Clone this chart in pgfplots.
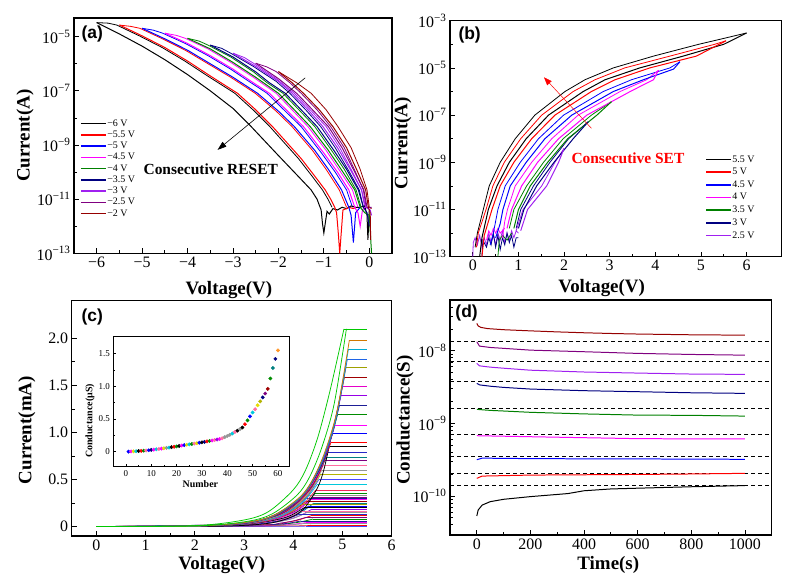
\documentclass[border=0pt]{standalone}
\usepackage{pgfplots}
\pgfplotsset{compat=1.18}
\usepackage{fontspec}
\setmainfont{Liberation Serif}
\newfontfamily\arialb{Liberation Sans}
\usetikzlibrary{arrows.meta}

\definecolor{oRed}{RGB}{255,0,0}
\definecolor{oBlue}{RGB}{0,0,255}
\definecolor{oMag}{RGB}{255,0,255}
\definecolor{oGreen}{RGB}{0,128,0}
\definecolor{oNavy}{RGB}{0,0,128}
\definecolor{oViolet}{RGB}{160,32,240}
\definecolor{oPurple}{RGB}{128,0,128}
\definecolor{oWine}{RGB}{150,0,0}
\definecolor{cGreenB}{RGB}{0,200,0}
\definecolor{cOrange}{RGB}{210,120,0}
\definecolor{cTeal2}{RGB}{0,170,210}
\definecolor{cRoyal}{RGB}{30,100,230}
\definecolor{cOlive}{RGB}{160,160,0}
\definecolor{cWine}{RGB}{160,0,0}
\definecolor{cMag}{RGB}{230,0,200}
\definecolor{cViolet}{RGB}{150,0,230}
\definecolor{cNavy}{RGB}{30,30,150}
\definecolor{cGreen}{RGB}{0,140,0}
\definecolor{cNavy2}{RGB}{40,40,200}
\definecolor{cTeal}{RGB}{0,128,128}
\definecolor{cPurple}{RGB}{128,0,128}
\definecolor{cPink}{RGB}{255,110,160}
\definecolor{cGray}{RGB}{150,150,150}
\definecolor{cOlive2}{RGB}{180,180,0}
\definecolor{cBlue2}{RGB}{70,70,255}
\definecolor{cCyan}{RGB}{0,200,220}
\definecolor{cRed2}{RGB}{240,40,90}
\definecolor{cYellow}{RGB}{230,220,0}
\definecolor{cOrangeB}{RGB}{255,150,40}

\tikzset{plab/.style={anchor=west, font=\fontsize{17.5}{17.5}\selectfont\arialb\bfseries}}
\pgfplotsset{
  panel/.style={scale only axis, anchor=south west,
    axis line style={line width=1.1pt},
    tick align=inside, xtick pos=left, ytick pos=left,
    major tick length=5bp, minor tick length=3bp,
    every tick/.style={black, line width=0.8pt},
    tick label style={font=\fontsize{16}{16}\selectfont},
    label style={font=\fontsize{19}{19}\selectfont\bfseries},
    /pgf/number format/assume math mode=true,
    /pgf/number format/1000 sep={}},
  iv/.style={line width=1.0pt},
  ivu/.style={line width=0.8pt, forget plot},
  cv/.style={line width=0.75pt, forget plot},
  lg/.style={legend style={draw=none, fill=none, font=\fontsize{10}{10}\selectfont,
      row sep=2.0bp, inner sep=0pt, nodes={inner sep=0.6bp}},
    legend image code/.code={\draw[##1, line width=1.5pt] (0bp,0bp) -- (25bp,0bp);},
    legend cell align=left}
}
% one I-V sweep of panel (c): rising part, then the flat compliance part
\newcommand{\cc}[4]{%
  \addplot[cv, smooth, tension=0.5, #1] coordinates {#2};
  \addplot[cv, #1] coordinates {(#3,#4)(5.5,#4)};}

\begin{document}
\begin{tikzpicture}
\path[use as bounding box] (0bp,0bp) rectangle (785bp,-583bp);

%================ (a) =================
\begin{axis}[panel, lg, at={(74bp,-253.3bp)}, width=318bp, height=235.3bp,
  xmin=-6.5, xmax=0.5, ymin=-13, ymax=-4.31,
  xtick={-6,-5,-4,-3,-2,-1,0}, xticklabels={−6,−5,−4,−3,−2,−1,0}, minor x tick num=1,
  ytick={-13,-11,-9,-7,-5}, yticklabels={10\textsuperscript{−13},10\textsuperscript{−11},10\textsuperscript{−9},10\textsuperscript{−7},10\textsuperscript{−5}},
  minor ytick={-12,-10,-8,-6},
  xlabel={Voltage(V)}, ylabel={Current(A)},
  xlabel style={at={(axis description cs:0.487,-0.156)}, anchor=center},
  ylabel style={at={(axis description cs:-0.154,0.5)}, anchor=center},
  legend style={at={(axis description cs:0.019,0.572)}, anchor=north west}]
% upper branches
\addplot[ivu, black] coordinates {(-6,-4.48)(-5.75,-4.5)(-5.56,-4.57)(-5.06,-4.97)(-4.56,-5.4)(-4.06,-5.9)(-3.56,-6.45)(-2.96,-7.09)(-2.56,-7.7)(-2.19,-8.32)(-1.56,-9.5)(-1.26,-10.15)(-1.03,-10.66)(-0.91,-11.0)(-0.82,-11.3)};
\addplot[ivu, oRed] coordinates {(-5.5,-4.57)(-5.25,-4.62)(-5.05,-4.69)(-4.55,-5.08)(-4.05,-5.5)(-3.55,-6.0)(-3.05,-6.5)(-2.51,-7.09)(-2.05,-7.75)(-1.7,-8.32)(-1.25,-9.2)(-0.95,-9.9)(-0.66,-10.66)(-0.5,-11.3)};
\addplot[ivu, oBlue] coordinates {(-5,-4.69)(-4.75,-4.76)(-4.55,-4.87)(-4.05,-5.25)(-3.55,-5.7)(-3.05,-6.2)(-2.65,-6.65)(-2.25,-7.09)(-1.85,-7.75)(-1.5,-8.32)(-1.05,-9.3)(-0.75,-10.0)(-0.5,-10.66)(-0.37,-11.3)};
\addplot[ivu, oMag] coordinates {(-4.5,-4.87)(-4.25,-4.95)(-4.05,-5.06)(-3.55,-5.45)(-3.05,-5.95)(-2.55,-6.5)(-2.05,-7.09)(-1.7,-7.7)(-1.35,-8.32)(-0.95,-9.2)(-0.65,-9.95)(-0.37,-10.66)(-0.25,-11.3)};
\addplot[ivu, oGreen] coordinates {(-4,-5.06)(-3.75,-5.16)(-3.55,-5.31)(-3.05,-5.75)(-2.55,-6.3)(-2.25,-6.7)(-1.9,-7.09)(-1.55,-7.7)(-1.2,-8.32)(-0.85,-9.15)(-0.55,-9.9)(-0.29,-10.66)(-0.18,-11.3)};
\addplot[ivu, oNavy] coordinates {(-3.5,-5.31)(-3.25,-5.43)(-3.05,-5.61)(-2.55,-6.1)(-2.05,-6.65)(-1.75,-7.09)(-1.4,-7.7)(-1.07,-8.32)(-0.75,-9.1)(-0.47,-9.9)(-0.22,-10.66)(-0.13,-11.3)};
\addplot[ivu, oViolet] coordinates {(-3,-5.61)(-2.75,-5.77)(-2.55,-5.98)(-2.05,-6.55)(-1.65,-7.09)(-1.3,-7.7)(-0.95,-8.32)(-0.65,-9.1)(-0.4,-9.9)(-0.17,-10.66)(-0.1,-11.3)};
\addplot[ivu, oPurple] coordinates {(-2.5,-5.98)(-2.25,-6.12)(-2.05,-6.29)(-1.75,-6.7)(-1.5,-7.09)(-1.15,-7.7)(-0.85,-8.32)(-0.55,-9.1)(-0.33,-9.9)(-0.13,-10.66)(-0.07,-11.3)};
\addplot[ivu, oWine] coordinates {(-2,-6.29)(-1.6,-6.7)(-1.28,-7.09)(-0.95,-7.7)(-0.69,-8.32)(-0.4,-9.1)(-0.2,-9.9)(-0.05,-10.66)(0.0,-11.3)(0.05,-11.35)};
% lower branches
\addplot[iv, black] coordinates {(-6,-4.48)(-5.5,-4.9)(-5,-5.35)(-4.5,-5.85)(-4,-6.4)(-3.5,-7.0)(-3,-7.65)(-2.6,-8.32)(-2,-9.39)(-1.5,-10.27)(-1.28,-10.66)(-1.15,-11.0)(-1.06,-11.4)(-1.03,-11.9)(-1.0,-12.25)(-0.97,-11.9)(-0.93,-11.45)(-0.88,-11.55)(-0.8,-11.35)(-0.7,-11.4)(-0.6,-11.3)(-0.5,-11.35)(-0.4,-11.25)(-0.3,-11.3)(-0.2,-11.3)(-0.1,-11.25)(-0.05,-11.6)(-0.03,-12.5)(0,-11.4)};
\addlegendentry{−6 V}
\addplot[iv, oRed] coordinates {(-5.5,-4.57)(-5,-4.97)(-4.5,-5.4)(-4,-5.9)(-3.5,-6.45)(-2.9,-7.09)(-2.5,-7.7)(-2.13,-8.32)(-1.5,-9.5)(-1.2,-10.15)(-0.97,-10.66)(-0.85,-11.0)(-0.76,-11.3)(-0.72,-11.5)(-0.68,-12.3)(-0.65,-13)(-0.62,-12.3)(-0.58,-11.4)(-0.5,-11.35)(-0.45,-11.3)(-0.35,-11.35)(-0.3,-11.3)};
\addlegendentry{−5.5 V}
\addplot[iv, oBlue] coordinates {(-5,-4.69)(-4.5,-5.08)(-4,-5.5)(-3.5,-6.0)(-3,-6.5)(-2.46,-7.09)(-2,-7.75)(-1.65,-8.32)(-1.2,-9.2)(-0.9,-9.9)(-0.61,-10.66)(-0.45,-11.3)(-0.4,-11.6)(-0.35,-12.6)(-0.3,-11.5)(-0.2,-11.3)};
\addlegendentry{−5 V}
\addplot[iv, oMag] coordinates {(-4.5,-4.87)(-4,-5.25)(-3.5,-5.7)(-3,-6.2)(-2.6,-6.65)(-2.2,-7.09)(-1.8,-7.75)(-1.45,-8.32)(-1.0,-9.3)(-0.7,-10.0)(-0.45,-10.66)(-0.32,-11.3)(-0.25,-11.5)(-0.2,-12.0)(-0.15,-11.4)(-0.1,-11.3)};
\addlegendentry{−4.5 V}
\addplot[iv, oGreen] coordinates {(-4,-5.06)(-3.5,-5.45)(-3,-5.95)(-2.5,-6.5)(-2,-7.09)(-1.65,-7.7)(-1.3,-8.32)(-0.9,-9.2)(-0.6,-9.95)(-0.32,-10.66)(-0.2,-11.3)(-0.1,-11.5)(0.0,-11.6)(0.05,-13)};
\addlegendentry{−4 V}
\addplot[iv, oNavy] coordinates {(-3.5,-5.31)(-3,-5.75)(-2.5,-6.3)(-2.2,-6.7)(-1.85,-7.09)(-1.5,-7.7)(-1.15,-8.32)(-0.8,-9.15)(-0.5,-9.9)(-0.24,-10.66)(-0.13,-11.3)(-0.05,-11.5)(0,-12)};
\addlegendentry{−3.5 V}
\addplot[iv, oViolet] coordinates {(-3,-5.61)(-2.5,-6.1)(-2,-6.65)(-1.7,-7.09)(-1.35,-7.7)(-1.02,-8.32)(-0.7,-9.1)(-0.42,-9.9)(-0.17,-10.66)(-0.08,-11.3)(0.02,-11.4)(0.05,-11.6)};
\addlegendentry{−3 V}
\addplot[iv, oPurple] coordinates {(-2.5,-5.98)(-2,-6.55)(-1.6,-7.09)(-1.25,-7.7)(-0.9,-8.32)(-0.6,-9.1)(-0.35,-9.9)(-0.12,-10.66)(-0.05,-11.3)(0.05,-11.3)};
\addlegendentry{−2.5 V}
\addplot[iv, oWine] coordinates {(-2,-6.29)(-1.7,-6.7)(-1.45,-7.09)(-1.1,-7.7)(-0.8,-8.32)(-0.5,-9.1)(-0.28,-9.9)(-0.08,-10.66)(-0.02,-11.3)(0.02,-11.5)(0.03,-12.5)};
\addlegendentry{−2 V}
\draw[-{Triangle[length=9bp,width=6bp]}, line width=0.6pt] (axis cs:-1.41,-6.52) -- (axis cs:-3.34,-9.18);
\node[font=\fontsize{15.5}{15.5}\selectfont\bfseries] at (axis cs:-3.49,-9.89) {Consecutive RESET};
\node[plab] at (axis description cs:0.0126,0.932) {(a)};
\end{axis}

%================ (b) =================
\begin{axis}[panel, lg, at={(450bp,-256.7bp)}, width=331.7bp, height=236bp,
  xmin=-0.5, xmax=6.77, ymin=-13, ymax=-3,
  xtick={0,1,2,3,4,5,6}, minor x tick num=1,
  ytick={-13,-11,-9,-7,-5,-3}, yticklabels={10\textsuperscript{−13},10\textsuperscript{−11},10\textsuperscript{−9},10\textsuperscript{−7},10\textsuperscript{−5},10\textsuperscript{−3}},
  minor ytick={-12,-10,-8,-6,-4},
  xlabel={Voltage(V)}, ylabel={Current(A)},
  xlabel style={at={(axis description cs:0.457,-0.133)}, anchor=center},
  ylabel style={at={(axis description cs:-0.142,0.48)}, anchor=center},
  legend style={at={(axis description cs:0.769,0.432)}, anchor=north west, row sep=3.4bp}]
% noise near 0 V
\addplot[ivu, oViolet] coordinates {(0,-13)(0.01,-12.4)(0.05,-12.2)(0.1,-12.5)(0.15,-12.1)(0.2,-12.6)(0.25,-12.2)(0.3,-12.5)(0.35,-12.0)(0.4,-12.4)(0.45,-12.1)(0.5,-12.5)(0.55,-12.0)(0.6,-12.3)(0.65,-11.9)(0.7,-12.4)(0.75,-12.0)(0.8,-12.3)(0.85,-11.9)(0.9,-12.2)(0.95,-11.9)(1.0,-12.0)};
\addplot[ivu, oNavy] coordinates {(0.2,-13)(0.22,-12.3)(0.3,-12.6)(0.35,-12.2)(0.4,-12.5)(0.45,-12.0)(0.5,-12.6)(0.55,-12.1)(0.6,-12.7)(0.65,-12.2)(0.7,-12.5)(0.75,-12.0)(0.8,-12.4)(0.85,-12.1)(0.9,-12.6)(0.95,-12.2)(1.0,-12.2)};
\addplot[ivu, oMag] coordinates {(0.3,-12.3)(0.35,-11.9)(0.4,-12.1)(0.45,-11.8)(0.5,-12.0)(0.55,-11.8)(0.6,-12.0)(0.7,-11.8)};
\addplot[ivu, oGreen] coordinates {(0.55,-13)(0.58,-12.3)(0.65,-12.1)(0.75,-12.3)(0.85,-12.0)};
% upper branches
\addplot[ivu, black] coordinates {(0.05,-12.6)(0.1,-12.0)(0.23,-11.0)(0.36,-10.0)(0.6,-9.0)(0.93,-8.0)(1.36,-7.0)(2.02,-6.0)(2.46,-5.5)(3.08,-5.0)(3.96,-4.5)(4.95,-4.0)(5.5,-3.75)(6,-3.52)};
\addplot[ivu, oRed] coordinates {(0.08,-12.6)(0.12,-12.0)(0.29,-11.0)(0.44,-10.0)(0.69,-9.0)(1.05,-8.0)(1.51,-7.0)(2.2,-6.0)(2.68,-5.5)(3.33,-5.0)(4.32,-4.5)(5.3,-4.0)(5.55,-3.85)};
\addplot[ivu, oBlue] coordinates {(0.38,-12.5)(0.45,-12.0)(0.55,-11.0)(0.71,-10.0)(1.04,-9.0)(1.44,-8.0)(1.99,-7.0)(2.86,-6.0)(3.48,-5.5)(4.32,-5.0)(4.54,-4.74)};
\addplot[ivu, oMag] coordinates {(0.65,-12.2)(0.7,-11.5)(0.76,-11.0)(0.93,-10.0)(1.29,-9.0)(1.73,-8.0)(2.31,-7.0)(3.23,-6.0)(3.81,-5.5)(4.07,-5.1)};
\addplot[ivu, oGreen] coordinates {(0.8,-11.8)(0.9,-11.0)(1.18,-10.0)(1.55,-9.0)(1.98,-8.0)(2.6,-7.0)(3.04,-6.43)};
\addplot[ivu, oNavy] coordinates {(0.95,-11.8)(1.05,-11.0)(1.33,-10.0)(1.69,-9.0)(2.1,-8.0)(2.53,-7.28)};
\addplot[ivu, oViolet] coordinates {(0.95,-11.9)(1.1,-11.0)(1.51,-10.0)(1.8,-9.0)(2.0,-8.41)};
% lower branches
\addplot[iv, black] coordinates {(0.15,-13)(0.2,-12.2)(0.34,-11.0)(0.53,-10.0)(0.8,-9.0)(1.17,-8.0)(1.66,-7.0)(2.42,-6.0)(2.9,-5.5)(3.66,-5.0)(4.61,-4.5)(5.5,-4.0)(6,-3.52)};
\addlegendentry{5.5 V}
\addplot[iv, oRed] coordinates {(0.2,-13)(0.25,-12.1)(0.42,-11.0)(0.6,-10.0)(0.9,-9.0)(1.29,-8.0)(1.8,-7.0)(2.6,-6.0)(3.12,-5.5)(3.88,-5.0)(4.9,-4.5)(5.55,-3.85)};
\addlegendentry{5 V}
\addplot[iv, oBlue] coordinates {(0.5,-12.2)(0.6,-11.6)(0.66,-11.0)(0.82,-10.0)(1.17,-9.0)(1.58,-8.0)(2.17,-7.0)(3.08,-6.0)(3.74,-5.5)(4.4,-5.05)(4.54,-4.74)};
\addlegendentry{4.5 V}
\addplot[iv, oMag] coordinates {(0.75,-11.8)(0.85,-11.0)(1.07,-10.0)(1.42,-9.0)(1.88,-8.0)(2.5,-7.0)(3.45,-6.0)(3.96,-5.5)(4.07,-5.1)};
\addlegendentry{4 V}
\addplot[iv, oGreen] coordinates {(0.9,-11.8)(1.0,-11.0)(1.26,-10.0)(1.64,-9.0)(2.08,-8.0)(2.72,-7.0)(3.04,-6.43)};
\addlegendentry{3.5 V}
\addplot[iv, oNavy] coordinates {(1.0,-11.8)(1.12,-11.0)(1.4,-10.0)(1.78,-9.0)(2.2,-8.0)(2.53,-7.28)};
\addlegendentry{3 V}
\addplot[iv, oViolet] coordinates {(1.05,-11.9)(1.2,-11.0)(1.62,-10.0)(1.88,-9.0)(2.0,-8.41)};
\addlegendentry{2.5 V}
\draw[-{Triangle[length=8bp,width=6bp]}, oRed, line width=0.5pt] (axis cs:2.6,-7.56) -- (axis cs:1.56,-5.4);
\node[font=\fontsize{15.5}{15.5}\selectfont\bfseries, text=oRed] at (axis cs:3.4,-8.83) {Consecutive SET};
\node[plab] at (axis description cs:0.015,0.939) {(b)};
\end{axis}

%================ (c) =================
\begin{axis}[panel, at={(71.7bp,-536bp)}, width=320bp, height=235.3bp,
  xmin=-0.5, xmax=6, ymin=-0.1, ymax=2.4,
  xtick={0,1,2,3,4,5,6}, minor x tick num=1,
  ytick={0,0.5,1,1.5,2}, yticklabels={0,0.5,1.0,1.5,2.0}, minor y tick num=1,
  xlabel={Voltage(V)}, ylabel={Current(mA)},
  xlabel style={at={(axis description cs:0.469,-0.123)}, anchor=center},
  ylabel style={at={(axis description cs:-0.14,0.45)}, anchor=center}]
% dense low-compliance band
\cc{cGreen}{(0,0)(2.45,0.0096)(3.45,0.057)(3.95,0.142)(4.2,0.22)(4.45,0.355)}{4.45}{0.355}
\cc{cGray}{(0,0)(2.3,0.009)(3.3,0.054)(3.8,0.134)(4.05,0.208)(4.3,0.335)}{4.3}{0.335}
\cc{cPurple}{(0,0)(2.4,0.0085)(3.4,0.05)(3.9,0.126)(4.15,0.195)(4.4,0.315)}{4.4}{0.315}
\cc{cNavy}{(0,0)(2.2,0.008)(3.2,0.048)(3.7,0.12)(3.95,0.186)(4.2,0.30)}{4.2}{0.30}
\cc{oMag}{(0,0)(2.35,0.0077)(3.35,0.046)(3.85,0.114)(4.1,0.177)(4.35,0.285)}{4.35}{0.285}
\cc{cWine}{(0,0)(2.25,0.0073)(3.25,0.043)(3.75,0.108)(4.0,0.167)(4.25,0.27)}{4.25}{0.27}
\cc{cTeal}{(0,0)(2.42,0.0068)(3.42,0.04)(3.92,0.10)(4.17,0.155)(4.42,0.25)}{4.42}{0.25}
\cc{cOlive}{(0,0)(2.15,0.0063)(3.15,0.038)(3.65,0.094)(3.9,0.146)(4.15,0.235)}{4.15}{0.235}
\cc{oBlue}{(0,0)(2.32,0.006)(3.32,0.035)(3.82,0.088)(4.07,0.136)(4.32,0.22)}{4.32}{0.22}
\cc{black}{(0,0)(2.22,0.0054)(3.22,0.032)(3.72,0.08)(3.97,0.124)(4.22,0.20)}{4.22}{0.20}
\cc{cViolet}{(0,0)(2.38,0.005)(3.38,0.03)(3.88,0.074)(4.13,0.115)(4.38,0.185)}{4.38}{0.185}
\cc{cPink}{(0,0)(2.18,0.0045)(3.18,0.026)(3.68,0.066)(3.93,0.102)(4.18,0.165)}{4.18}{0.165}
\cc{cGray}{(0,0)(2.28,0.004)(3.28,0.024)(3.78,0.06)(4.03,0.093)(4.28,0.15)}{4.28}{0.15}
\cc{cNavy2}{(0,0)(2.12,0.0035)(3.12,0.021)(3.62,0.052)(3.87,0.081)(4.12,0.13)}{4.12}{0.13}
\cc{oRed}{(0,0)(3.36,0.018)(3.86,0.046)(4.11,0.071)(4.36,0.115)}{4.36}{0.115}
\cc{cPurple}{(0,0)(3.24,0.015)(3.74,0.038)(3.99,0.059)(4.24,0.095)}{4.24}{0.095}
\cc{cGreen}{(0,0)(3.4,0.013)(3.9,0.032)(4.15,0.05)(4.4,0.08)}{4.4}{0.08}
\cc{cNavy}{(0,0)(3.16,0.0096)(3.66,0.024)(3.91,0.037)(4.16,0.06)}{4.16}{0.06}
\cc{oMag}{(0,0)(3.3,0.0072)(3.8,0.018)(4.05,0.028)(4.3,0.045)}{4.3}{0.045}
\cc{cGray}{(0,0)(3.2,0.005)(3.7,0.012)(3.95,0.019)(4.2,0.03)}{4.2}{0.03}
\cc{oRed}{(0,0)(3.85,0.006)(4.35,0.015)}{4.35}{0.015}
\cc{cBlue2}{(0,0)(4.25,0.005)}{4.25}{0.005}
% higher-compliance sweeps
\cc{cRed2}{(0,0)(2.46,0.0105)(2.96,0.025)(3.46,0.062)(3.71,0.098)(3.96,0.156)(4.21,0.24)(4.46,0.39)}{4.46}{0.39}
\cc{cCyan}{(0,0)(2.49,0.012)(2.99,0.029)(3.49,0.072)(3.74,0.11)(3.99,0.18)(4.24,0.28)(4.49,0.45)}{4.49}{0.45}
\cc{cBlue2}{(0,0)(2.52,0.0135)(3.02,0.0325)(3.52,0.08)(3.77,0.125)(4.02,0.20)(4.27,0.31)(4.52,0.50)}{4.52}{0.50}
\cc{cOlive2}{(0,0)(2.55,0.015)(3.05,0.036)(3.55,0.088)(3.8,0.14)(4.05,0.22)(4.3,0.34)(4.55,0.55)}{4.55}{0.55}
\cc{cGray}{(0,0)(2.58,0.016)(3.08,0.039)(3.58,0.096)(3.83,0.15)(4.08,0.24)(4.33,0.37)(4.58,0.60)}{4.58}{0.60}
\cc{cPink}{(0,0)(2.61,0.018)(3.11,0.042)(3.61,0.104)(3.86,0.16)(4.11,0.26)(4.36,0.40)(4.61,0.65)}{4.61}{0.65}
\cc{cPurple}{(0,0)(2.64,0.019)(3.14,0.046)(3.64,0.112)(3.89,0.175)(4.14,0.28)(4.39,0.43)(4.64,0.70)}{4.64}{0.70}
\cc{cTeal}{(0,0)(2.67,0.02)(3.17,0.048)(3.67,0.118)(3.92,0.185)(4.17,0.30)(4.42,0.46)(4.67,0.74)}{4.67}{0.74}
\cc{cNavy2}{(0,0)(1.7,0.0032)(2.7,0.021)(3.2,0.051)(3.7,0.126)(3.95,0.20)(4.2,0.32)(4.45,0.49)(4.7,0.79)}{4.7}{0.79}
\cc{black}{(0,0)(2.5,0.004)(3.5,0.035)(4.0,0.11)(4.25,0.21)(4.5,0.42)(4.62,0.6)(4.73,0.85)}{4.73}{0.85}
\cc{oRed}{(0,0)(1.77,0.0036)(2.77,0.024)(3.27,0.059)(3.77,0.144)(4.02,0.225)(4.27,0.36)(4.52,0.56)(4.77,0.90)}{4.77}{0.90}
\cc{oBlue}{(0,0)(1.8,0.004)(2.8,0.027)(3.3,0.064)(3.8,0.158)(4.05,0.25)(4.3,0.40)(4.55,0.61)(4.8,0.99)}{4.8}{0.99}
\cc{oMag}{(0,0)(1.85,0.0043)(2.85,0.029)(3.35,0.07)(3.85,0.173)(4.1,0.27)(4.35,0.43)(4.6,0.67)(4.85,1.08)}{4.85}{1.08}
\cc{cGreen}{(0,0)(1.9,0.0048)(2.9,0.032)(3.4,0.077)(3.9,0.19)(4.15,0.30)(4.4,0.48)(4.65,0.74)(4.9,1.19)}{4.9}{1.19}
\cc{cNavy}{(0,0)(1.94,0.0052)(2.94,0.035)(3.44,0.084)(3.94,0.206)(4.19,0.32)(4.44,0.52)(4.69,0.80)(4.94,1.29)}{4.94}{1.29}
\cc{cViolet}{(0,0)(1.97,0.0056)(2.97,0.038)(3.47,0.09)(3.97,0.222)(4.22,0.35)(4.47,0.56)(4.72,0.86)(4.97,1.39)}{4.97}{1.39}
\cc{cMag}{(0,0)(2,0.006)(3,0.040)(3.5,0.097)(4,0.238)(4.25,0.37)(4.5,0.60)(4.75,0.92)(5,1.49)}{5}{1.49}
\cc{cWine}{(0,0)(2.04,0.0064)(3.04,0.043)(3.54,0.103)(4.04,0.254)(4.29,0.40)(4.54,0.64)(4.79,0.99)(5.04,1.59)}{5.04}{1.59}
\cc{cOlive}{(0,0)(2.07,0.0068)(3.07,0.046)(3.57,0.11)(4.07,0.27)(4.32,0.42)(4.57,0.68)(4.82,1.05)(5.07,1.69)}{5.07}{1.69}
\cc{cRoyal}{(0,0)(2.1,0.007)(3.1,0.048)(3.6,0.116)(4.1,0.285)(4.35,0.445)(4.6,0.71)(4.85,1.10)(5.1,1.78)}{5.1}{1.78}
\cc{cTeal2}{(0,0)(2.12,0.0075)(3.12,0.051)(3.62,0.122)(4.12,0.30)(4.37,0.47)(4.62,0.75)(4.87,1.17)(5.12,1.88)}{5.12}{1.88}
\cc{cOrange}{(0,0)(2.14,0.008)(3.14,0.053)(3.64,0.129)(4.14,0.317)(4.39,0.495)(4.64,0.79)(4.89,1.23)(5.14,1.98)}{5.14}{1.98}
\cc{cGreenB}{(0,0)(2.0,0.01)(3.0,0.07)(3.5,0.16)(4.0,0.39)(4.25,0.6)(4.5,0.95)(4.75,1.45)(5.03,2.10)}{5.03}{2.10}
\cc{cGreenB}{(0,0)(2.08,0.008)(3.08,0.057)(3.58,0.137)(4.08,0.336)(4.33,0.525)(4.58,0.84)(4.83,1.30)(5.08,2.10)}{5.08}{2.10}
\node[plab] at (axis description cs:0.02,0.931) {(c)};
\end{axis}

% inset of (c)
\begin{axis}[scale only axis, anchor=south west, at={(113.3bp,-466.7bp)}, width=176bp, height=130.7bp,
  xmin=-5, xmax=64.5, ymin=-0.23, ymax=1.77,
  axis background/.style={fill=white},
  axis line style={line width=0.8pt},
  tick align=inside, xtick pos=left, ytick pos=left,
  major tick length=3bp, minor tick length=2bp,
  every tick/.style={black, line width=0.5pt},
  xtick={0,10,20,30,40,50,60}, minor x tick num=1,
  ytick={0,0.5,1,1.5}, yticklabels={0,0.5,1.0,1.5}, minor y tick num=1,
  tick label style={font=\fontsize{9}{9}\selectfont},
  /pgf/number format/assume math mode=true,
  xlabel={Number}, ylabel={Conductance(μS)},
  label style={font=\fontsize{10}{10}\selectfont\bfseries},
  xlabel style={at={(axis description cs:0.495,-0.132)}, anchor=center},
  ylabel style={at={(axis description cs:-0.133,0.35)}, anchor=center}]
\addplot[scatter, only marks, mark=*, mark size=1.7bp, scatter src=explicit symbolic,
  scatter/classes={
    a={mark=*,draw=oBlue,fill=oBlue}, b={mark=*,draw=oMag,fill=oMag},
    c={mark=*,draw=cYellow,fill=cYellow}, d={mark=*,draw=cCyan,fill=cCyan},
    e={mark=*,draw=black,fill=black}, f={mark=*,draw=oRed,fill=oRed},
    g={mark=*,draw=cGreen,fill=cGreen}, h={mark=*,draw=cPink,fill=cPink},
    i={mark=*,draw=cGray,fill=cGray}, j={mark=*,draw=oNavy,fill=oNavy},
    k={mark=*,draw=cOrangeB,fill=cOrangeB}, l={mark=*,draw=cViolet,fill=cViolet},
    m={mark=*,draw=cOlive2,fill=cOlive2}, n={mark=*,draw=cTeal,fill=cTeal},
    o={mark=*,draw=cWine,fill=cWine}, p={mark=*,draw=cPurple,fill=cPurple}}]
coordinates {
(1,0.000)[a] (2,0.003)[b] (3,0.005)[c] (4,0.007)[d] (5,0.010)[e] (6,0.012)[f]
(7,0.015)[g] (8,0.018)[h] (9,0.022)[a] (10,0.027)[j] (11,0.031)[b] (12,0.036)[d]
(13,0.041)[h] (14,0.047)[b] (15,0.052)[c] (16,0.057)[i] (17,0.063)[d] (18,0.069)[e]
(19,0.075)[f] (20,0.081)[g] (21,0.088)[e] (22,0.094)[b] (23,0.100)[a] (24,0.106)[c]
(25,0.112)[d] (26,0.118)[g] (27,0.124)[h] (28,0.130)[c] (29,0.137)[a] (30,0.143)[e]
(31,0.150)[j] (32,0.157)[f] (33,0.164)[g] (34,0.171)[b] (35,0.178)[h] (36,0.186)[l]
(37,0.194)[b] (38,0.205)[h] (39,0.222)[i] (40,0.240)[i] (41,0.258)[i] (42,0.278)[d]
(43,0.300)[h] (44,0.322)[e] (45,0.345)[i] (46,0.370)[e] (47,0.420)[f] (48,0.480)[g]
(49,0.540)[a] (50,0.600)[d] (51,0.650)[h] (52,0.710)[c] (53,0.770)[m] (54,0.830)[j]
(55,0.890)[p] (56,0.960)[o] (57,1.120)[g] (58,1.280)[n] (59,1.420)[j] (60,1.550)[k]
};
\end{axis}

%================ (d) =================
\begin{axis}[panel, at={(450bp,-535bp)}, width=321.7bp, height=235bp,
  xmin=-100, xmax=1100, ymode=log, ymin=2.9e-11, ymax=5e-8,
  xtick={0,200,400,600,800,1000}, minor x tick num=1,
  ytick={1e-10,1e-9,1e-8}, yticklabels={10\textsuperscript{−10},10\textsuperscript{−9},10\textsuperscript{−8}},
  minor ytick={3e-11,4e-11,5e-11,6e-11,7e-11,8e-11,9e-11,2e-10,3e-10,4e-10,5e-10,6e-10,7e-10,8e-10,9e-10,2e-9,3e-9,4e-9,5e-9,6e-9,7e-9,8e-9,9e-9,2e-8,3e-8,4e-8,5e-8},
  xlabel={Time(s)}, ylabel={Conductance(S)},
  xlabel style={at={(axis description cs:0.492,-0.128)}, anchor=center},
  ylabel style={at={(axis description cs:-0.14,0.489)}, anchor=center}]
\addplot[black, line width=0.8pt, dash pattern=on 4bp off 3bp, forget plot] coordinates {(-100,1.36e-8)(1100,1.36e-8)};
\addplot[black, line width=0.8pt, dash pattern=on 4bp off 3bp, forget plot] coordinates {(-100,7.06e-9)(1100,7.06e-9)};
\addplot[black, line width=0.8pt, dash pattern=on 4bp off 3bp, forget plot] coordinates {(-100,3.74e-9)(1100,3.74e-9)};
\addplot[black, line width=0.8pt, dash pattern=on 4bp off 3bp, forget plot] coordinates {(-100,1.61e-9)(1100,1.61e-9)};
\addplot[black, line width=0.8pt, dash pattern=on 4bp off 3bp, forget plot] coordinates {(-100,7.06e-10)(1100,7.06e-10)};
\addplot[black, line width=0.8pt, dash pattern=on 4bp off 3bp, forget plot] coordinates {(-100,3.48e-10)(1100,3.48e-10)};
\addplot[black, line width=0.8pt, dash pattern=on 4bp off 3bp, forget plot] coordinates {(-100,2.05e-10)(1100,2.05e-10)};
\addplot[black, line width=0.8pt, dash pattern=on 4bp off 3bp, forget plot] coordinates {(-100,1.42e-10)(1100,1.42e-10)};
\addplot[iv, oWine] coordinates {(0,2.38e-8)(5,2.2e-8)(15,2.1e-8)(40,2.02e-8)(100,1.95e-8)(200,1.88e-8)(300,1.82e-8)(400,1.77e-8)(500,1.73e-8)(600,1.70e-8)(700,1.68e-8)(800,1.66e-8)(900,1.65e-8)(1000,1.64e-8)};
\addplot[iv, oPurple] coordinates {(0,1.33e-8)(10,1.16e-8)(50,1.11e-8)(100,1.08e-8)(200,1.02e-8)(400,9.7e-9)(600,9.2e-9)(800,8.9e-9)(1000,8.7e-9)};
\addplot[iv, oViolet] coordinates {(0,6.7e-9)(10,6.2e-9)(50,5.95e-9)(100,5.75e-9)(200,5.4e-9)(400,5.1e-9)(600,4.93e-9)(800,4.78e-9)(1000,4.73e-9)};
\addplot[iv, oNavy] coordinates {(0,3.56e-9)(10,3.39e-9)(50,3.25e-9)(100,3.13e-9)(200,2.97e-9)(400,2.82e-9)(600,2.73e-9)(800,2.64e-9)(1000,2.59e-9)};
\addplot[iv, oGreen] coordinates {(0,1.56e-9)(50,1.51e-9)(100,1.48e-9)(200,1.42e-9)(400,1.35e-9)(600,1.30e-9)(800,1.29e-9)(1000,1.26e-9)};
\addplot[iv, oMag] coordinates {(0,6.76e-10)(200,6.55e-10)(400,6.35e-10)(600,6.16e-10)(800,6.12e-10)(1000,6.1e-10)};
\addplot[iv, oBlue] coordinates {(0,3.16e-10)(20,3.32e-10)(200,3.27e-10)(400,3.25e-10)(600,3.24e-10)(800,3.22e-10)(1000,3.2e-10)};
\addplot[iv, oRed] coordinates {(0,1.75e-10)(20,1.88e-10)(200,1.94e-10)(400,1.96e-10)(600,1.98e-10)(800,2.01e-10)(1000,2.05e-10)};
\addplot[iv, black] coordinates {(0,5.3e-11)(5,6.4e-11)(20,7.5e-11)(50,8.35e-11)(100,9.0e-11)(200,9.8e-11)(300,1.05e-10)(340,1.08e-10)(400,1.18e-10)(500,1.25e-10)(600,1.28e-10)(800,1.34e-10)(1000,1.39e-10)};
\node[plab] at (axis description cs:0.006,0.945) {(d)};
\end{axis}
\end{tikzpicture}
\end{document}
